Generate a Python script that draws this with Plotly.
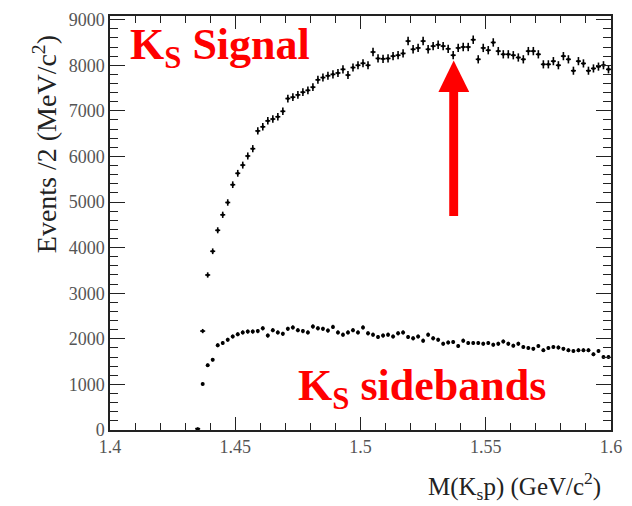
import plotly.graph_objects as go
import numpy as np

# M(K_s p) bin centres (GeV/c^2), 2 MeV bins
mass = [1.435, 1.437, 1.439, 1.441, 1.443, 1.445, 1.447, 1.449, 1.451, 1.453,
        1.455, 1.457, 1.459, 1.461, 1.463, 1.465, 1.467, 1.469, 1.471, 1.473,
        1.475, 1.477, 1.479, 1.481, 1.483, 1.485, 1.487, 1.489, 1.491, 1.493,
        1.495, 1.497, 1.499, 1.501, 1.503, 1.505, 1.507, 1.509, 1.511, 1.513,
        1.515, 1.517, 1.519, 1.521, 1.523, 1.525, 1.527, 1.529, 1.531, 1.533,
        1.535, 1.537, 1.539, 1.541, 1.543, 1.545, 1.547, 1.549, 1.551, 1.553,
        1.555, 1.557, 1.559, 1.561, 1.563, 1.565, 1.567, 1.569, 1.571, 1.573,
        1.575, 1.577, 1.579, 1.581, 1.583, 1.585, 1.587, 1.589, 1.591, 1.593,
        1.595, 1.597, 1.599]

signal = [30, 2170, 3400, 3920, 4380, 4720, 4990, 5380, 5630, 5810,
          6010, 6170, 6560, 6650, 6780, 6820, 6870, 6990, 7270, 7300,
          7350, 7410, 7450, 7520, 7680, 7730, 7770, 7800, 7830, 7910,
          7785, 7950, 8000, 8044, 8000, 8290, 8150, 8140, 8150, 8200,
          8220, 8260, 8530, 8350, 8380, 8530, 8350, 8420, 8450, 8420,
          8360, 8220, 8380, 8400, 8400, 8560, 8130, 8380, 8330, 8500,
          8310, 8240, 8240, 8220, 8170, 8130, 8310, 8310, 8240, 8020,
          8020, 8090, 8000, 8200, 8130, 7880, 8090, 8040, 7880, 7930,
          7970, 8000, 7910]

sidebands = [10, 1010, 1420, 1540, 1860, 1910, 1980, 2050, 2100, 2140,
             2160, 2160, 2170, 2230, 2070, 2190, 2140, 2110, 2220, 2250,
             2190, 2170, 2140, 2270, 2230, 2220, 2180, 2260, 2140, 2090,
             2140, 2190, 2140, 2250, 2120, 2090, 2040, 2070, 2090, 2050,
             2120, 2140, 2040, 2010, 2050, 1960, 2090, 2010, 1980, 1890,
             1920, 1930, 1840, 1960, 1910, 1910, 1910, 1890, 1910, 1870,
             1890, 1940, 1890, 1850, 1890, 1820, 1800, 1780, 1840, 1750,
             1800, 1820, 1810, 1780, 1750, 1730, 1750, 1750, 1750, 1660,
             1730, 1600, 1600]

x_ticks = [1.4, 1.45, 1.5, 1.55, 1.6]
y_ticks = [0, 1000, 2000, 3000, 4000, 5000, 6000, 7000, 8000, 9000]

n = min(len(mass), len(signal), len(sidebands))
mass, signal, sidebands = mass[:n], signal[:n], sidebands[:n]
half_bin = 0.001

fig = go.Figure()
fig.add_trace(go.Scatter(
    x=mass, y=signal, mode="markers",
    marker=dict(color="black", size=3),
    error_x=dict(type="constant", value=half_bin, color="black", thickness=1.6, width=0),
    error_y=dict(type="data", array=list(np.sqrt(signal)), color="black", thickness=1.6, width=0),
    showlegend=False,
))
fig.add_trace(go.Scatter(
    x=mass, y=sidebands, mode="markers",
    marker=dict(color="black", size=4),
    error_y=dict(type="data", array=list(np.sqrt(sidebands)), color="black", thickness=1.2, width=0),
    showlegend=False,
))

# red arrow (shaft + head)
ax_c = 1.5372
fig.add_shape(type="rect", xref="x", yref="y", x0=ax_c - 0.00178, x1=ax_c + 0.00178,
              y0=4691, y1=7430, fillcolor="#ff0000", line=dict(width=0))
fig.add_shape(type="path", xref="x", yref="y",
              path=f"M {ax_c-0.0061},7415 L {ax_c+0.0062},7415 L {ax_c},8106 Z",
              fillcolor="#ff0000", line=dict(width=0))

serif = "Liberation Serif, Times New Roman, serif"
fig.add_annotation(text="<b>K<sub>S</sub> Signal</b>", xref="paper", yref="paper",
                   x=0.036, y=0.925, xanchor="left", yanchor="middle", showarrow=False,
                   font=dict(family=serif, size=44, color="#ff0000"))
fig.add_annotation(text="<b>K<sub>S</sub> sidebands</b>", xref="paper", yref="paper",
                   x=0.372, y=0.1, xanchor="left", yanchor="middle", showarrow=False,
                   font=dict(family=serif, size=44, color="#ff0000"))
fig.add_annotation(text="M(K<sub>s</sub>p) (GeV/c<sup>2</sup>)", xref="paper", yref="paper",
                   x=0.984, y=-0.136, xanchor="right", yanchor="middle", showarrow=False,
                   font=dict(family=serif, size=25, color="#222"))
fig.add_annotation(text="Events /2 (MeV/c<sup>2</sup>)", xref="paper", yref="paper",
                   x=-0.13, y=0.69, xanchor="center", yanchor="middle", showarrow=False,
                   textangle=-90, font=dict(family=serif, size=28, color="#222"))

axis_common = dict(showline=True, linecolor="#222", linewidth=1.5, mirror="ticks",
                   ticks="inside", tickcolor="#222", tickwidth=1.2, showgrid=False,
                   zeroline=False, tickfont=dict(family=serif, size=18, color="#555"))
fig.update_xaxes(range=[1.4, 1.6], tickvals=x_ticks, ticktext=[str(t) for t in x_ticks],
                 ticklen=13,
                 minor=dict(dtick=0.01, tick0=1.4, ticks="inside", ticklen=7, tickcolor="#222", showgrid=False),
                 **axis_common)
fig.update_yaxes(range=[0, 9080], tickvals=y_ticks, ticktext=[str(t) for t in y_ticks],
                 ticklen=15,
                 minor=dict(dtick=200, tick0=0, ticks="inside", ticklen=8, tickcolor="#222", showgrid=False),
                 **axis_common)

fig.update_layout(width=632, height=506, margin=dict(l=110, r=16, t=10, b=76),
                  paper_bgcolor="white", plot_bgcolor="white")
fig.write_html("out.html")
